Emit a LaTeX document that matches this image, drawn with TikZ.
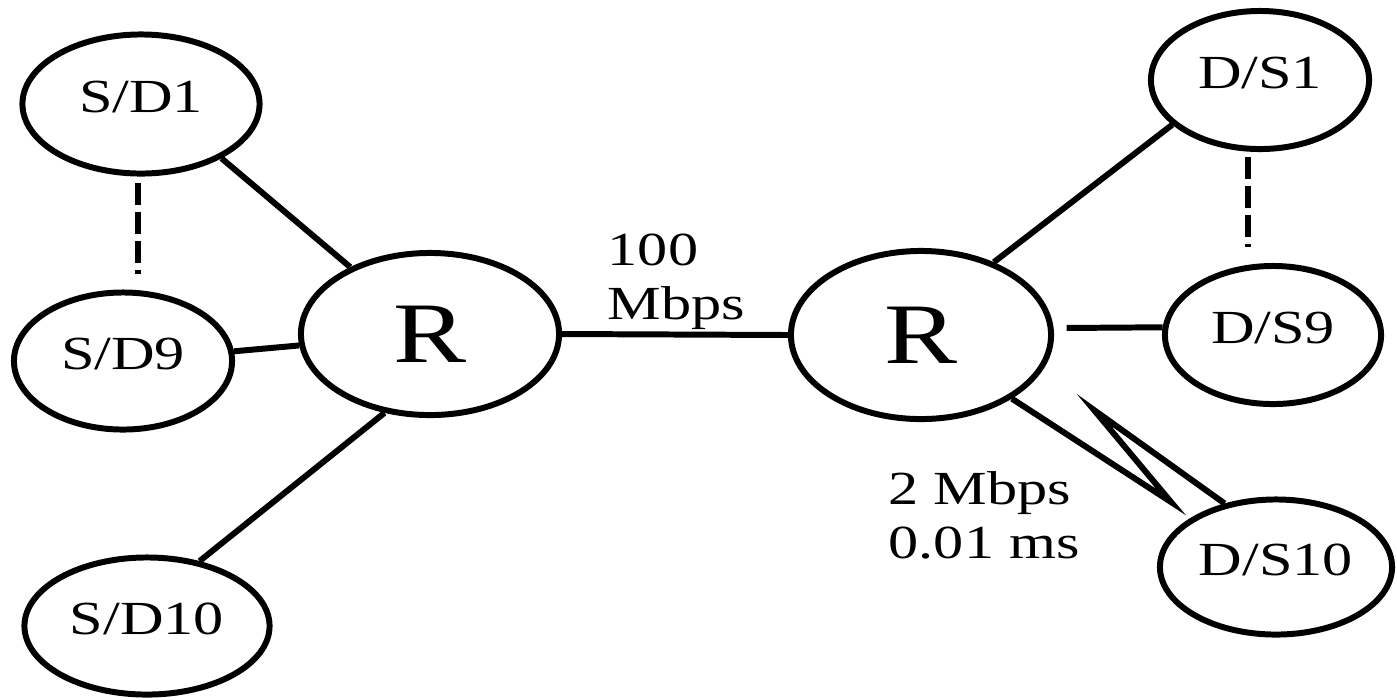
\documentclass[tikz,border=0pt]{standalone}
\usepackage{fontspec}
\setmainfont{Liberation Serif}[FakeStretch=1.27]
\usepackage{tikz}
\usetikzlibrary{shapes, positioning, calc}
\tikzset{
    host/.style = {ellipse, draw, line width=1.7pt, inner sep=0pt, text depth=0.14cm, font=\fontsize{13.5}{15.3}\selectfont},
    router/.style = {ellipse, draw, line width=1.7pt, inner sep=0pt, font=\fontsize{24.5}{28}\selectfont},
    line/.style = {draw, line width=1.7pt},
    dashedline/.style = {draw, line width=1.7pt, dash pattern=on 0.22cm off 0.07cm},
    rate/.style = {align=left, inner sep=0pt, font=\fontsize{13.5}{15.3}\selectfont}
}

\begin{document}
\begin{tikzpicture}[x=0.01cm, y=-0.01cm]
        \useasboundingbox (0,0) rectangle (1397,699);

        % Left hosts
        \node [host, minimum width=2.37cm, minimum height=1.39cm] (sd1) at (141,104) {S/D1};
        \node [host, minimum width=2.18cm, minimum height=1.37cm] (sd9) at (123,361) {S/D9};
        \node [host, minimum width=2.45cm, minimum height=1.37cm] (sd10) at (147,626) {S/D10};

        % Routers
        \node [router, minimum width=2.58cm, minimum height=1.62cm] (rl) at (430,334) {R};
        \node [router, minimum width=2.60cm, minimum height=1.68cm] (rr) at (921,335) {R};

        % Right hosts
        \node [host, minimum width=2.18cm, minimum height=1.38cm] (ds1) at (1260,80) {D/S1};
        \node [host, minimum width=2.16cm, minimum height=1.38cm] (ds9) at (1273,335) {D/S9};
        \node [host, minimum width=2.32cm, minimum height=1.35cm] (ds10) at (1276,567) {D/S10};

        % Link labels
        \node [rate, anchor=south west] (bw) at (607,330) {100\\Mbps};
        \node [rate, anchor=south west] (wl) at (888,560) {2 Mbps\\0.01 ms};

        % Wireless zigzag
        \coordinate (zigA) at (1171,502);
        \coordinate (zigB) at (1094,410);

        % Links
        \path [line] (sd1.-34) -- (rl.140);
        \path [line] (sd9.5) -- (rl.185);
        \path [line] (sd10.51) -- (rl.240);
        \path [line] (rl.east) -- (rr.west);
        \path [line] (rr.45) -- (ds1.207);
        \path [line, shorten <=0.13cm] (rr.3) -- (ds9.176);
        \path [line] (rr.-35) -- (zigA) -- (zigB) -- (ds10.129);
        \path [dashedline] ($(sd1.south)+(-3,6)$) -- ($(sd1.south |- sd9.north)+(-3,-15)$);
        \path [dashedline] ($(ds1.south)+(-12,5)$) -- ($(ds1.south |- ds9.north)+(-12,-16)$);

    \end{tikzpicture}
\end{document}
